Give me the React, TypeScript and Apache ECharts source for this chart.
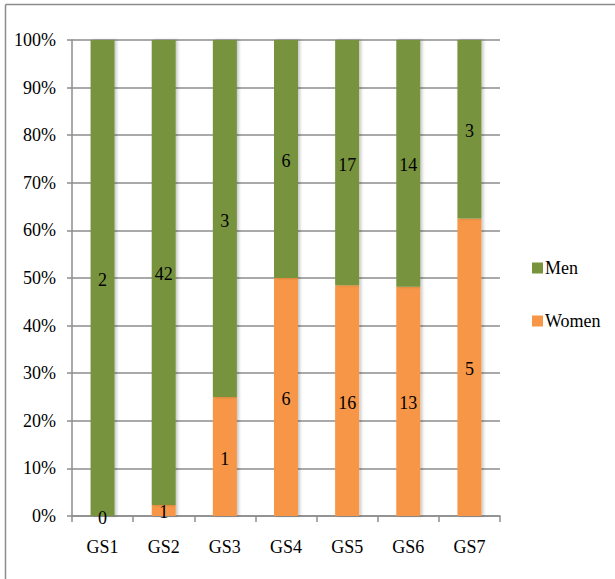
import React, { useEffect, useRef } from "react";
import * as echarts from "echarts";

const categories = ["GS1", "GS2", "GS3", "GS4", "GS5", "GS6", "GS7"];
const womenCounts = [0, 1, 1, 6, 16, 13, 5];
const menCounts = [2, 42, 3, 6, 17, 14, 3];
const yTickLabels = ["0%", "10%", "20%", "30%", "40%", "50%", "60%", "70%", "80%", "90%", "100%"];

const FONT = "serif";

export default function App() {
  const ref = useRef<HTMLDivElement>(null);
  useEffect(() => {
    if (!ref.current) return;
    const chart = echarts.init(ref.current, null, { renderer: "svg" });
    const totals = categories.map((_, i) => womenCounts[i] + menCounts[i]);
    const womenPct = womenCounts.map((v, i) => (v / totals[i]) * 100);
    const menPct = menCounts.map((v, i) => (v / totals[i]) * 100);
    const shadow = {
      shadowColor: "rgba(0,0,0,0.22)",
      shadowBlur: 3,
      shadowOffsetX: 2,
      shadowOffsetY: 0,
    };
    const labelBase = {
      show: true,
      position: "inside",
      fontFamily: FONT,
      fontSize: 18,
      color: "#000",
      offset: [0, 2],
    };
    chart.setOption({
      animation: false,
      backgroundColor: "#ffffff",
      grid: { left: 72, right: 115, top: 40, bottom: 63 },
      graphic: [
        { type: "line", shape: { x1: 5.5, y1: 4.5, x2: 615, y2: 4.5 }, style: { stroke: "#8c8c8c", lineWidth: 1.5 } },
        { type: "line", shape: { x1: 5.5, y1: 4.5, x2: 5.5, y2: 579 }, style: { stroke: "#8c8c8c", lineWidth: 1.5 } },
      ],
      legend: {
        orient: "vertical",
        left: 527,
        top: 254,
        itemWidth: 11,
        itemHeight: 11,
        itemGap: 35,
        icon: "rect",
        data: ["Men", "Women"],
        textStyle: { fontFamily: FONT, fontSize: 18, color: "#000", padding: [2, 0, 0, -3] },
      },
      xAxis: {
        type: "category",
        data: categories,
        axisLine: { lineStyle: { color: "#8c8c8c", width: 1.5 } },
        axisTick: { show: true, length: 6, lineStyle: { color: "#8c8c8c", width: 1.5 } },
        axisLabel: { fontFamily: FONT, fontSize: 18, color: "#000", margin: 22 },
      },
      yAxis: {
        type: "value",
        min: 0,
        max: 100,
        interval: 10,
        axisLine: { show: true, lineStyle: { color: "#8c8c8c", width: 1.5 } },
        axisTick: { show: true, length: 5, lineStyle: { color: "#8c8c8c", width: 1.5 } },
        splitLine: { show: true, lineStyle: { color: "#8c8c8c", width: 1.5 } },
        axisLabel: {
          fontFamily: FONT,
          fontSize: 18,
          color: "#000",
          margin: 16,
          formatter: (v: number) => yTickLabels[Math.round(v / 10)],
        },
      },
      series: [
        {
          name: "Women",
          type: "bar",
          stack: "total",
          barWidth: 24,
          data: womenPct,
          itemStyle: { color: "#F79646", ...shadow },
          label: { ...labelBase, formatter: (p: any) => String(womenCounts[p.dataIndex]) },
        },
        {
          name: "Men",
          type: "bar",
          stack: "total",
          barWidth: 24,
          data: menPct,
          itemStyle: { color: "#77933C", ...shadow },
          label: { ...labelBase, formatter: (p: any) => String(menCounts[p.dataIndex]) },
        },
      ],
    });
    return () => chart.dispose();
  }, []);
  return (
    <div
      ref={ref}
      style={{ position: "fixed", left: 0, top: 0, width: 615, height: 579 }}
    />
  );
}
